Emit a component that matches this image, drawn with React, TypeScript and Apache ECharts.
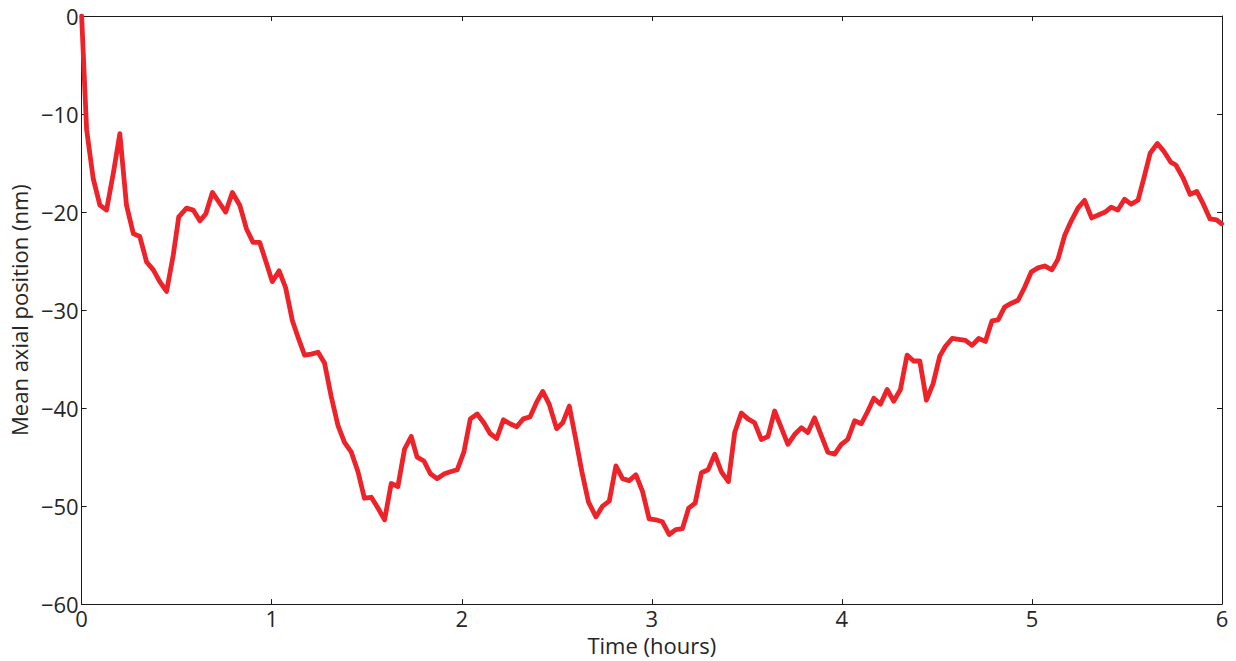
import React, { useEffect, useRef } from "react";
import * as echarts from "echarts";

const times: number[] = [
  0, 0.026, 0.061, 0.096, 0.131, 0.167, 0.201, 0.236, 0.272, 0.306,
  0.342, 0.377, 0.411, 0.447, 0.482, 0.511, 0.552, 0.587, 0.622, 0.653,
  0.688, 0.723, 0.758, 0.793, 0.832, 0.867, 0.902, 0.937, 0.972, 1.003,
  1.039, 1.073, 1.109, 1.139, 1.173, 1.208, 1.244, 1.278, 1.314, 1.349,
  1.383, 1.419, 1.454, 1.488, 1.524, 1.559, 1.594, 1.629, 1.664, 1.699,
  1.734, 1.765, 1.801, 1.835, 1.87, 1.909, 1.94, 1.976, 2.011, 2.045,
  2.081, 2.116, 2.149, 2.184, 2.219, 2.254, 2.289, 2.324, 2.359, 2.394,
  2.426, 2.46, 2.499, 2.531, 2.566, 2.601, 2.632, 2.667, 2.706, 2.741,
  2.776, 2.811, 2.846, 2.881, 2.916, 2.951, 2.986, 3.021, 3.056, 3.091,
  3.126, 3.161, 3.194, 3.228, 3.261, 3.296, 3.331, 3.366, 3.403, 3.436,
  3.471, 3.506, 3.541, 3.576, 3.611, 3.646, 3.681, 3.716, 3.751, 3.787,
  3.821, 3.856, 3.892, 3.926, 3.962, 3.997, 4.031, 4.067, 4.102, 4.137,
  4.168, 4.203, 4.238, 4.273, 4.308, 4.343, 4.377, 4.41, 4.445, 4.48,
  4.515, 4.545, 4.58, 4.615, 4.65, 4.685, 4.72, 4.755, 4.79, 4.822,
  4.856, 4.892, 4.927, 4.961, 4.997, 5.032, 5.067, 5.105, 5.137, 5.172,
  5.207, 5.242, 5.277, 5.314, 5.349, 5.385, 5.417, 5.452, 5.487, 5.522,
  5.558, 5.592, 5.622, 5.66, 5.694, 5.73, 5.757, 5.797, 5.832, 5.867,
  5.902, 5.937, 5.972, 5.998,
];

const positions: number[] = [
  0, -11.55, -16.6, -19.3, -19.8, -16.0, -12.0, -19.3, -22.2, -22.5,
  -25.1, -25.9, -27.1, -28.1, -24.4, -20.5, -19.6, -19.8, -20.9, -20.2,
  -18.0, -19.0, -20.0, -18.0, -19.3, -21.7, -23.1, -23.1, -25.2, -27.1,
  -26.0, -27.7, -31.1, -32.8, -34.6, -34.5, -34.3, -35.4, -38.9, -41.8,
  -43.5, -44.5, -46.5, -49.2, -49.1, -50.2, -51.4, -47.7, -48.0, -44.2,
  -42.9, -45.0, -45.4, -46.7, -47.2, -46.7, -46.5, -46.3, -44.5, -41.1,
  -40.6, -41.5, -42.6, -43.1, -41.2, -41.6, -41.9, -41.1, -40.9, -39.4,
  -38.3, -39.6, -42.1, -41.5, -39.8, -43.3, -46.5, -49.6, -51.1, -50.0,
  -49.5, -45.9, -47.2, -47.4, -46.8, -48.5, -51.3, -51.4, -51.6, -52.9,
  -52.4, -52.3, -50.2, -49.7, -46.6, -46.3, -44.7, -46.5, -47.5, -42.5,
  -40.5, -41.1, -41.5, -43.2, -42.9, -40.3, -42.0, -43.7, -42.7, -42.0,
  -42.5, -41.0, -42.8, -44.5, -44.7, -43.7, -43.2, -41.3, -41.6, -40.3,
  -39.0, -39.6, -38.1, -39.3, -38.1, -34.6, -35.2, -35.2, -39.2, -37.5,
  -34.7, -33.7, -32.9, -33.0, -33.1, -33.6, -32.9, -33.2, -31.1, -31.0,
  -29.7, -29.3, -29.0, -27.7, -26.1, -25.7, -25.5, -25.9, -24.8, -22.4,
  -20.9, -19.6, -18.8, -20.6, -20.3, -20.0, -19.5, -19.8, -18.7, -19.2,
  -18.8, -16.3, -14.0, -13.0, -13.8, -14.9, -15.2, -16.6, -18.2, -17.9,
  -19.2, -20.7, -20.8, -21.2,
];

const xMin = 0;
const xMax = 6;
const xStep = 1;
const yMin = -60;
const yMax = 0;
const yStep = 10;
const xTitle = "Time (hours)";
const yTitle = "Mean axial position (nm)";

const FONT = "'Open Sans', 'DejaVu Sans', sans-serif";
const TEXT = "#262626";
const AXIS = "#1a1a1a";

const fmt = (v: number) => (v < 0 ? "\u2212" + Math.abs(v) : String(v));

export default function App() {
  const ref = useRef<HTMLDivElement>(null);
  useEffect(() => {
    if (!ref.current) return;
    const chart = echarts.init(ref.current, undefined, { renderer: "svg" });
    const tick = { show: true, inside: true, length: 5, lineStyle: { color: AXIS, width: 1 } };
    const line = { show: true, onZero: false, lineStyle: { color: AXIS, width: 1 } };
    chart.setOption({
      animation: false,
      backgroundColor: "#ffffff",
      grid: { left: 80, right: 14, top: 16, bottom: 53, containLabel: false },
      xAxis: [
        {
          type: "value",
          min: xMin,
          max: xMax,
          interval: xStep,
          position: "bottom",
          axisLine: line,
          axisTick: tick,
          splitLine: { show: false },
          axisLabel: { color: TEXT, fontFamily: FONT, fontSize: 22, margin: 3, formatter: fmt },
          name: xTitle,
          nameLocation: "middle",
          nameGap: 26,
          nameTextStyle: { color: TEXT, fontFamily: FONT, fontSize: 22 },
        },
        {
          type: "value",
          min: xMin,
          max: xMax,
          interval: xStep,
          position: "top",
          axisLine: line,
          axisTick: tick,
          splitLine: { show: false },
          axisLabel: { show: false },
        },
      ],
      yAxis: [
        {
          type: "value",
          min: yMin,
          max: yMax,
          interval: yStep,
          position: "left",
          axisLine: line,
          axisTick: tick,
          splitLine: { show: false },
          axisLabel: { color: TEXT, fontFamily: FONT, fontSize: 22, margin: 3, formatter: fmt },
          name: yTitle,
          nameLocation: "middle",
          nameGap: 50,
          nameRotate: 90,
          nameTextStyle: { color: TEXT, fontFamily: FONT, fontSize: 22 },
        },
        {
          type: "value",
          min: yMin,
          max: yMax,
          interval: yStep,
          position: "right",
          axisLine: line,
          axisTick: tick,
          splitLine: { show: false },
          axisLabel: { show: false },
        },
      ],
      series: [
        {
          type: "line",
          xAxisIndex: 0,
          yAxisIndex: 0,
          data: times.map((t, i) => [t, positions[i]]),
          showSymbol: false,
          symbol: "none",
          lineStyle: { color: "#ee2229", width: 4.8, join: "round", cap: "round" },
          clip: true,
        },
      ],
    });
    return () => chart.dispose();
  }, []);
  return (
    <div
      ref={ref}
      style={{ position: "absolute", left: 0, top: 0, width: 1236, height: 661 }}
    />
  );
}
